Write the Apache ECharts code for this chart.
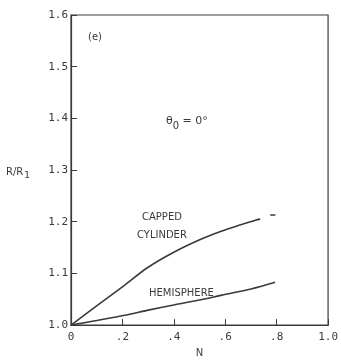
<!DOCTYPE html>
<html>
<head>
<meta charset="utf-8">
<script src="https://cdn.jsdelivr.net/npm/echarts@6/dist/echarts.min.js"></script>
<style>
  html, body { margin: 0; padding: 0; background: #fff; }
  #chart { width: 341px; height: 363px; }
</style>
</head>
<body>
<div id="chart"></div>
<script>
// data (N, R/R1)
const cappedN = [0, 0.105, 0.208, 0.297, 0.40, 0.505, 0.587, 0.66, 0.717, 0.736];
const cappedR = [1.0, 1.039, 1.077, 1.111, 1.141, 1.166, 1.182, 1.194, 1.203, 1.205];
const cappedTailN = [0.775, 0.795];
const cappedTailR = [1.213, 1.213];
const hemiN = [0, 0.1, 0.208, 0.30, 0.40, 0.505, 0.587, 0.70, 0.794];
const hemiR = [1.0, 1.009, 1.019, 1.029, 1.039, 1.049, 1.058, 1.070, 1.083];
const xTicks = ["0", ".2", ".4", ".6", ".8", "1.0"];
const yTicks = ["1.0", "1.1", "1.2", "1.3", "1.4", "1.5", "1.6"];

const ink = "#3a3a3a";
const pair = (xs, ys) => xs.map((x, i) => [x, ys[i]]);

const chart = echarts.init(document.getElementById("chart"));

const lineSeries = (data) => ({
  type: "line",
  data: data,
  smooth: 0.3,
  symbol: "none",
  lineStyle: { color: ink, width: 1.6 },
  silent: true,
});

chart.setOption({
  backgroundColor: "#fff",
  animation: false,
  grid: { left: 71, right: 11, top: 15, bottom: 32, show: true, borderColor: ink, borderWidth: 1.2 },
  xAxis: {
    type: "value", min: 0, max: 1.0, interval: 0.2,
    name: "N", nameLocation: "middle", nameGap: 22,
    nameTextStyle: { color: ink, fontFamily: "DejaVu Sans", fontSize: 10 },
    axisLine: { lineStyle: { color: ink, width: 1.2 } },
    axisTick: { inside: true, length: 6, lineStyle: { color: ink } },
    axisLabel: {
      color: ink, fontFamily: "DejaVu Sans Mono", fontSize: 11, margin: 7,
      formatter: (v) => xTicks[Math.round(v / 0.2)],
    },
    splitLine: { show: false },
  },
  yAxis: {
    type: "value", min: 1.0, max: 1.6, interval: 0.1,
    axisLine: { show: true, lineStyle: { color: ink, width: 1.2 } },
    axisTick: { inside: true, length: 6, lineStyle: { color: ink } },
    axisLabel: {
      color: ink, fontFamily: "DejaVu Sans Mono", fontSize: 11, margin: 3,
      formatter: (v) => yTicks[Math.round((v - 1.0) / 0.1)],
    },
    splitLine: { show: false },
  },
  series: [
    lineSeries(pair(cappedN, cappedR)),
    lineSeries(pair(cappedTailN, cappedTailR)),
    lineSeries(pair(hemiN, hemiR)),
  ],
  graphic: [
    { type: "text", left: 6, top: 167, style: {
        text: "{a|R/R}{s|1}", fill: ink,
        rich: { a: { fontFamily: "DejaVu Sans", fontSize: 10, fill: ink },
                s: { fontFamily: "DejaVu Sans", fontSize: 9, fill: ink, padding: [8, 0, 0, 1] } } } },
    { type: "text", left: 88, top: 32, style: { text: "(e)", fill: ink, font: "10px DejaVu Sans" } },
    { type: "text", left: 166, top: 116, style: {
        text: "{a|θ}{s|0}{a| = 0°}", fill: ink,
        rich: { a: { fontFamily: "DejaVu Sans", fontSize: 11, fill: ink },
                s: { fontFamily: "DejaVu Sans", fontSize: 10, fill: ink, padding: [9, 0, 0, 0] } } } },
    { type: "text", left: 142, top: 212, style: { text: "CAPPED", fill: ink, font: "10px DejaVu Sans" } },
    { type: "text", left: 137, top: 230, style: { text: "CYLINDER", fill: ink, font: "10px DejaVu Sans" } },
    { type: "text", left: 149, top: 288, style: { text: "HEMISPHERE", fill: ink, font: "10px DejaVu Sans" } },
  ],
});
</script>
</body>
</html>
